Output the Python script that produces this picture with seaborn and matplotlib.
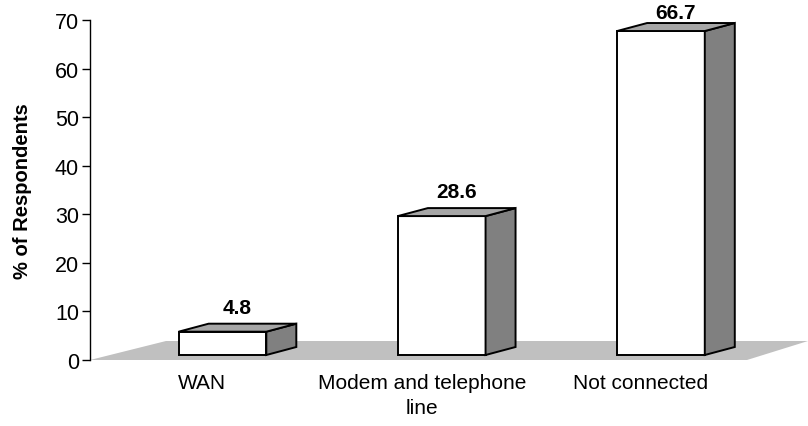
import matplotlib
matplotlib.use("Agg")
import matplotlib.pyplot as plt
import matplotlib.transforms as mtrans
from matplotlib.patches import Polygon
import pandas as pd
import seaborn as sns

# Survey results
categories = ["WAN", "Modem and telephone\nline", "Not connected"]
values = [4.8, 28.6, 66.7]
y_ticks = [0, 10, 20, 30, 40, 50, 60, 70]
value_labels = ["4.8", "28.6", "66.7"]
y_title = "% of Respondents"

sns.set_theme(style="ticks")
plt.rcParams["font.family"] = ["Liberation Sans", "DejaVu Sans"]
for key in ("text.color", "axes.labelcolor", "xtick.color", "ytick.color", "axes.edgecolor"):
    plt.rcParams[key] = "black"

DPI = 100
W, H = 808, 427
fig = plt.figure(figsize=(W / DPI, H / DPI), dpi=DPI)
fig.patch.set_facecolor("white")

# plot box in pixels: left 90, right 808, y=0 at 361, y=70 at 21
ax = fig.add_axes([90 / W, (H - 361) / H, 718 / W, 340 / H])
ax.set_facecolor("none")

df = pd.DataFrame({"category": categories, "value": values})
sns.barplot(data=df, x="category", y="value", color="white", saturation=1,
            width=0.4, edgecolor="black", linewidth=1.4, ax=ax, zorder=3)
bars = list(ax.patches)

xmin, xmax = -0.513, 2.762
ax.set_xlim(xmin, xmax)
ax.set_ylim(0, 70)
ax.set_yticks(y_ticks)

sx = 718 / (xmax - xmin)   # px per category unit
sy = 340 / 70              # px per percent

# 3-D look: bars sit part-way back on the floor; each has a shaded side and top
front_tr = ax.transData + mtrans.ScaledTranslation(20 / DPI, 5 / DPI, fig.dpi_scale_trans)
ddx, ddy = 30 / sx, 8 / sy

# floor
fdx, fdy = 76 / sx, 19 / sy
floor = Polygon([(xmin, 0), (xmin + fdx, fdy), (xmax, fdy), (xmax - 61 / sx, 0)],
                closed=True, facecolor="#c0c0c0", edgecolor="none",
                transform=ax.transData, zorder=1, clip_on=False)
ax.add_patch(floor)

for p, lab in zip(bars, value_labels):
    p.set_transform(front_tr)
    p.set_clip_on(False)
    x0, w, h = p.get_x(), p.get_width(), p.get_height()
    side = Polygon([(x0 + w, 0), (x0 + w, h), (x0 + w + ddx, h + ddy), (x0 + w + ddx, ddy)],
                   closed=True, facecolor="#808080", edgecolor="black", linewidth=1.4,
                   joinstyle="miter", transform=front_tr, zorder=3, clip_on=False)
    top = Polygon([(x0, h), (x0 + w, h), (x0 + w + ddx, h + ddy), (x0 + ddx, h + ddy)],
                  closed=True, facecolor="#a6a6a6", edgecolor="black", linewidth=1.4,
                  joinstyle="miter", transform=front_tr, zorder=3, clip_on=False)
    ax.add_patch(side)
    ax.add_patch(top)
    # value label above the top face, kept inside the figure
    top_px = front_tr.transform((x0 + w / 2 + ddx / 2, h + ddy))[1]
    gap_px = min(11, (H - 19) - top_px)
    ax.annotate(lab, xy=(x0 + w / 2 + ddx / 2, h + ddy), xycoords=front_tr,
                xytext=(0, gap_px * 72 / DPI), textcoords="offset points",
                ha="center", va="baseline", fontsize=15, fontweight="bold",
                annotation_clip=False, zorder=5)

# axes styling
for side_name in ("top", "right", "bottom"):
    ax.spines[side_name].set_visible(False)
ax.spines["left"].set_linewidth(1.0)
ax.spines["left"].set_zorder(4)
ax.tick_params(axis="y", left=True, direction="out", length=5.5, width=1.0,
               pad=2.5, labelsize=15.5)
ax.tick_params(axis="x", bottom=False, length=0, pad=9.5, labelsize=15)
for t in ax.get_xticklabels():
    t.set_linespacing(1.4)
ax.set_xlabel("")
ax.set_ylabel("")
fig.text(23 / W, (H - 191) / H, y_title, rotation=90, ha="center", va="center",
         fontsize=14.5, fontweight="bold")

fig.savefig("out.png", dpi=DPI, facecolor="white")
